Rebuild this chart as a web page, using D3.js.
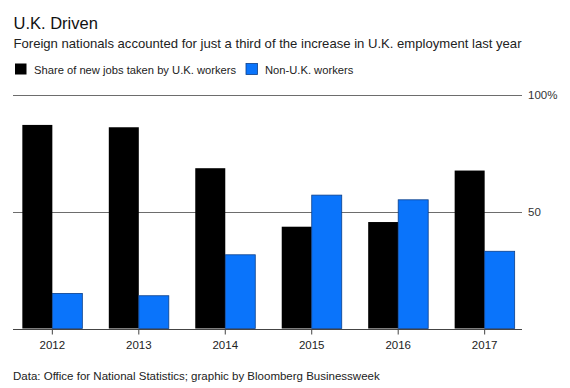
<!DOCTYPE html>
<html>
<head>
<meta charset="utf-8">
<script src="https://cdn.jsdelivr.net/npm/d3@7"></script>
<style>
  body { margin: 0; background: #fff; }
  svg { display: block; font-family: "Liberation Sans", Arial, sans-serif; }
</style>
</head>
<body>
<svg id="chart"></svg>
<script>
const years = ['2012', '2013', '2014', '2015', '2016', '2017']
const ukShare = [87, 86, 68.5, 43.5, 45.5, 67.5]
const nonUkShare = [15, 14, 31.5, 57, 55, 33]
const seriesNames = ['Share of new jobs taken by U.K. workers', 'Non-U.K. workers']
const yTicks = [50, 100]

const width = 570
const height = 388
const margin = { top: 94.5, right: 48, bottom: 60, left: 13 }

const svg = d3.select('#chart')
  .attr('width', width)
  .attr('height', height)

// Title block
svg.append('text')
  .attr('x', 13.5).attr('y', 29)
  .attr('font-size', 16.5).attr('fill', '#111')
  .text('U.K. Driven')

svg.append('text')
  .attr('x', 13.5).attr('y', 47.5)
  .attr('font-size', 13.1).attr('fill', '#222')
  .text('Foreign nationals accounted for just a third of the increase in U.K. employment last year')

// Legend
const colors = ['#000000', '#0a74fb']
const legendX = [15, 246]
seriesNames.forEach((name, i) => {
  svg.append('rect')
    .attr('x', legendX[i]).attr('y', 63.5)
    .attr('width', 11.5).attr('height', 11)
    .attr('fill', colors[i])
    .attr('stroke', i === 1 ? '#0b3f8a' : 'none')
    .attr('stroke-width', 0.8)
  svg.append('text')
    .attr('x', legendX[i] + 19).attr('y', 73.5)
    .attr('font-size', 11.2).attr('fill', '#222')
    .text(name)
})

const x = d3.scaleBand()
  .domain(years)
  .range([margin.left, width - margin.right + 2])
  .paddingInner(0.306)
  .paddingOuter(0.108)

const y = d3.scaleLinear()
  .domain([0, 100])
  .range([height - margin.bottom + 0.5, margin.top])

const gridRight = width - margin.right

// Gridlines + right labels
svg.append('g')
  .selectAll('line')
  .data(yTicks)
  .join('line')
  .attr('x1', margin.left)
  .attr('x2', gridRight)
  .attr('y1', d => Math.round(y(d)) + 0.5)
  .attr('y2', d => Math.round(y(d)) + 0.5)
  .attr('stroke', '#6d6d6d')
  .attr('stroke-width', 1)

svg.append('g')
  .selectAll('text')
  .data(yTicks)
  .join('text')
  .attr('x', gridRight + 6)
  .attr('y', d => y(d) + 4)
  .attr('font-size', 11.5)
  .attr('fill', '#333')
  .text(d => d === 100 ? '100%' : d)

// Bars
const bw = x.bandwidth() / 2
const groups = svg.append('g')
  .selectAll('g')
  .data(years)
  .join('g')
  .attr('transform', d => `translate(${x(d)},0)`)

groups.append('rect')
  .attr('x', 0)
  .attr('width', bw)
  .attr('y', (d, i) => y(ukShare[i]))
  .attr('height', (d, i) => y(0) - y(ukShare[i]))
  .attr('fill', colors[0])

groups.append('rect')
  .attr('x', bw)
  .attr('width', bw)
  .attr('y', (d, i) => y(nonUkShare[i]))
  .attr('height', (d, i) => y(0) - y(nonUkShare[i]))
  .attr('fill', colors[1])
  .attr('stroke', '#0b3f8a')
  .attr('stroke-width', 0.8)

// Baseline axis
const xAxis = d3.axisBottom(x).tickSize(5).tickPadding(6)
const gx = svg.append('g')
  .attr('transform', `translate(0,${Math.round(y(0)) + 0.5})`)
  .call(xAxis)
gx.select('.domain').attr('d', `M${margin.left},0H${gridRight}`).attr('stroke', '#444')
gx.selectAll('.tick line').attr('stroke', '#444')
gx.selectAll('.tick text')
  .attr('font-size', 11.5)
  .attr('fill', '#222')
  .attr('font-family', '"Liberation Sans", Arial, sans-serif')

// Source
svg.append('text')
  .attr('x', 13).attr('y', 380)
  .attr('font-size', 11.5).attr('fill', '#222')
  .text('Data: Office for National Statistics; graphic by Bloomberg Businessweek')
</script>
</body>
</html>
